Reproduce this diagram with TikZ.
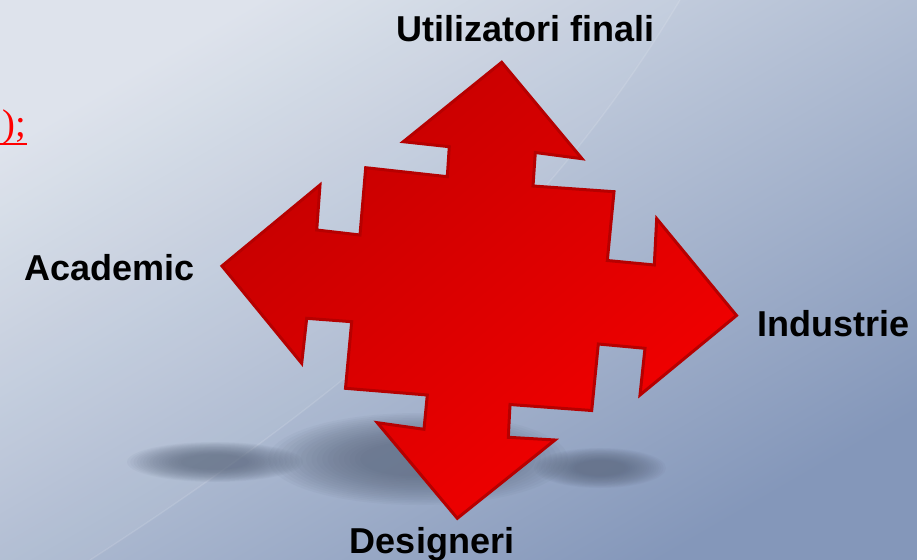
\documentclass[tikz,border=0pt]{standalone}
\usepackage{fontspec}
\setmainfont{Liberation Sans}
\newfontfamily\serifrm{Liberation Serif}

\definecolor{bgtop}{RGB}{220,226,235}
\definecolor{bgbottom}{RGB}{132,151,186}
\definecolor{arrowdark}{RGB}{196,0,0}
\definecolor{arrowlight}{RGB}{244,0,0}
\definecolor{arrowedge}{RGB}{182,0,0}
\definecolor{shadowcol}{RGB}{88,100,122}

\tikzset{every picture/.style={line width=0.75pt},
  sidelabel/.style={font=\fontsize{27}{32}\selectfont\bfseries, inner sep=0pt, anchor=base},
  quadarrow/.style={draw=arrowedge, line width=2.25, line join=miter,
    top color=arrowdark, bottom color=arrowlight, shading angle=40},
  shadowlayer/.style={fill=shadowcol, opacity=0.055}}

\begin{document}
\begin{tikzpicture}[x=0.75pt,y=0.75pt,yscale=-1,xscale=1]
\useasboundingbox (0,0) rectangle (917,560);

%Background
\shade[top color=bgtop, bottom color=bgbottom, shading angle=30] (0,0) rectangle (917,560);
%Light sweep
\fill[white, opacity=0.06] (0,0) -- (680,0) .. controls (560,200) and (400,360) .. (90,560) -- (0,560) -- cycle;
\draw[white, opacity=0.12, line width=1] (680,0) .. controls (560,200) and (400,360) .. (90,560);

%Shadow under the arrow, built up from soft layers
\foreach \cx/\cy/\rx/\ry in {418/459/150/46, 215/462/88/20, 600/468/66/20}
  \foreach \k in {1,...,18}
    \fill[shadowlayer] (\cx,\cy) ellipse [x radius=\rx*(0.35+0.65*\k/18), y radius=\ry*(0.35+0.65*\k/18)];

%Shape: Quad Arrow
\shadedraw[quadarrow] (501.7,62.3) -- (582,158.7) -- (535.3,152.5) -- (533,186)
  -- (614,191.7) -- (607.3,260.5) -- (654.3,265) -- (656.7,218.7)
  -- (736.5,315.5) -- (640,395) -- (645,348.3) -- (598.3,344)
  -- (591.7,410.5) -- (510,404.5) -- (508.3,437.3) -- (555,440)
  -- (457.3,518.3) -- (377.3,422.7) -- (424,429.3) -- (427.3,395)
  -- (345.5,388.3) -- (351.7,321.7) -- (306.7,318.3) -- (301.7,363.3)
  -- (222,266) -- (320,185) -- (316.7,230) -- (360,235)
  -- (365.7,167.7) -- (447.3,176.7) -- (449.3,146.7) -- (403.3,141.7) -- cycle;

% Text Node
\node[sidelabel] (finali) at (525.4,41.7) {Utilizatori finali};
% Text Node
\node[sidelabel] (academic) at (109.7,280) {Academic};
% Text Node
\node[sidelabel] (industrie) at (833.3,336.7) {Industrie};
% Text Node
\node[sidelabel] (designeri) at (432,553.3) {Designeri};
% Text Node
\node[font=\serifrm\fontsize{29}{34}\selectfont, text=red, inner sep=0pt, anchor=base east] (paren) at (26.5,137) {);};
\draw[red, line width=1.5] (0,143.5) -- (paren.east |- 0,143.5);

\end{tikzpicture}
\end{document}
